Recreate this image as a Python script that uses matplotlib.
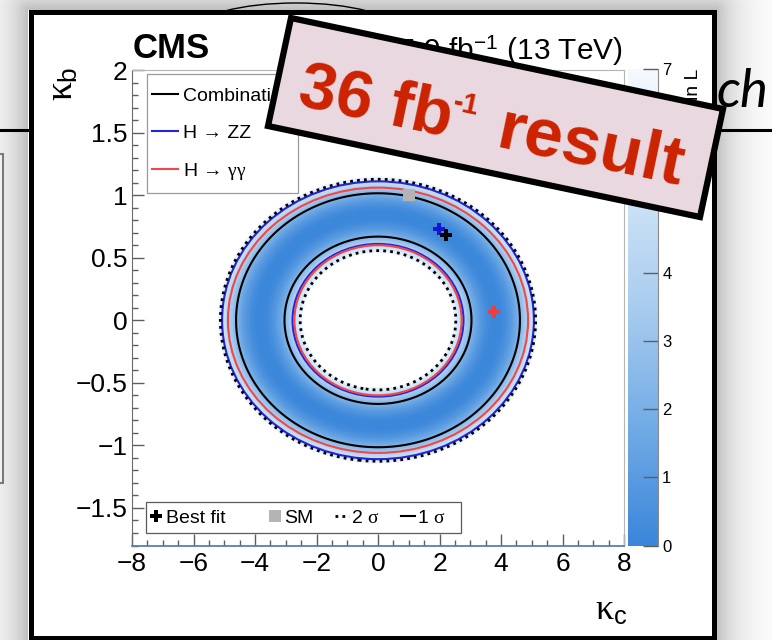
import numpy as np
import matplotlib
matplotlib.use('Agg')
import matplotlib.pyplot as plt
from matplotlib.colors import LinearSegmentedColormap
from matplotlib.patches import Ellipse, Rectangle, Polygon
from matplotlib.lines import Line2D
from matplotlib.ticker import MultipleLocator, FuncFormatter

plt.rcParams['font.family'] = ['Liberation Sans', 'DejaVu Sans']
plt.rcParams['mathtext.fontset'] = 'custom'
plt.rcParams['mathtext.rm'] = 'Liberation Sans'
plt.rcParams['mathtext.it'] = 'Liberation Serif'
plt.rcParams['mathtext.bf'] = 'Liberation Sans:bold'

# combined fit: -2 dlnL crossings along kappa_c = 0 (kb) and kappa_b = 0 (kc)
comb_q = [6.18, 2.30, 2.30, 6.18]
comb_kb = [0.56, 0.66, 1.005, 1.13]
comb_kc = [2.55, 2.96, 4.62, 5.15]

# 1 sigma contours of the single channels, semi-axes (inner, outer)
zz_kc = [2.78, 5.07]
zz_kb = [0.61, 1.11]
gg_kc = [2.72, 4.88]
gg_kb = [0.60, 1.06]

# best fit points and standard model
best_comb = [2.21, 0.68]
best_zz = [1.99, 0.73]
best_gg = [3.78, 0.07]
sm_point = [1.0, 1.0]

x_ticks = [-8, -6, -4, -2, 0, 2, 4, 6, 8]
y_ticks = [-1.5, -1, -0.5, 0, 0.5, 1, 1.5, 2]
z_ticks = [0, 1, 2, 3, 4, 5, 6, 7]

W, H = 772, 640
fig = plt.figure(figsize=(W / 100, H / 100), dpi=100)

# ---- slide background behind the plot window ----
bg = fig.add_axes([0, 0, 1, 1])
bg.set_axis_off()
yy, xx = np.mgrid[0:H, 0:W] + 0.5
dx = np.maximum(np.maximum(28 - xx, xx - 716), 0)
dy = np.maximum(np.maximum(10 - yy, yy - 640), 0)
d = np.hypot(dx, dy)
shadow = np.zeros((H, W, 4))
shadow[..., 3] = np.where(d > 0, 0.26 * np.exp(-d / 22.0), 0)
bg.imshow(shadow, extent=(0, W, H, 0), aspect='auto', zorder=1)
bg.add_patch(Ellipse((296, 30), 200, 54, fill=False, ec='k', lw=1.0, zorder=1.2))
bg.plot([0, W], [130, 130], color='k', lw=2.2, zorder=1.2)
bg.add_patch(Rectangle((-10, 154), 12.5, 329, fc='#f2f2f2', ec='#7a7a7a', lw=1.5, zorder=1.2))
bg.text(716, 107, 'ch', fontsize=38, family=['Lato', 'DejaVu Sans'], style='italic',
        color='k', ha='left', va='baseline', zorder=1.3)
bg.add_patch(Rectangle((30.5, 12), 683.5, 626, fc='white', ec='k', lw=3.6, zorder=2))
bg.text(133, 58, 'CMS', fontsize=25, fontweight='bold', ha='left', va='baseline', zorder=3)
bg.text(623, 60, '35.9 fb$^{\\mathrm{-1}}$ (13 TeV)', fontsize=21.5, ha='right',
        va='baseline', zorder=3)
bg.text(63, 67, r'$\kappa_{\mathrm{b}}$', fontsize=27, rotation=90, ha='center',
        va='top', zorder=3)
bg.text(627, 620, r'$\kappa_{\mathrm{c}}$', fontsize=26, ha='right', va='baseline', zorder=3)
bg.set_xlim(0, W)
bg.set_ylim(H, 0)

# ---- likelihood scan ----
ax_left, ax_top, ax_w, ax_h = 132, 70, 492, 475.5
ax = fig.add_axes([ax_left / W, 1 - (ax_top + ax_h) / H, ax_w / W, ax_h / H], zorder=1)


def frac(px, py):
    return (px - ax_left) / ax_w, (ax_top + ax_h - py) / ax_h


aspect = np.mean(np.array(comb_kc) / np.array(comb_kb))
u_best = np.hypot(best_comb[0] / aspect, best_comb[1])
u_pts = comb_kb[:2] + [u_best] + comb_kb[2:]
q_pts = comb_q[:2] + [0.0] + comb_q[2:]
coef = np.polyfit(u_pts, q_pts, 2)

kc = np.linspace(-8, 8, 801)
kb = np.linspace(-1.8, 2, 481)
KC, KB = np.meshgrid(kc, kb)
Q = np.clip(np.polyval(coef, np.hypot(KC / aspect, KB)), 0, None)

cmap = LinearSegmentedColormap.from_list(
    'nll', ['#3a86da', '#72abe5', '#a8ccef', '#d0e4f6', '#f4f9fe'])
cmap.set_over('white')
cmap.set_bad('white')
mesh = ax.pcolormesh(KC, KB, np.ma.masked_greater(Q, 7), cmap=cmap, vmin=0, vmax=7,
                     shading='auto')

for a, b in zip(zz_kc, zz_kb):
    ax.add_patch(Ellipse((0, 0), 2 * a, 2 * b, fill=False, ec='#2424dd', lw=1.5))
for a, b in zip(gg_kc, gg_kb):
    ax.add_patch(Ellipse((0, 0), 2 * a, 2 * b, fill=False, ec='#f04848', lw=1.5))
ax.contour(KC, KB, Q, levels=[comb_q[1]], colors='k', linewidths=1.5)
ax.contour(KC, KB, Q, levels=[comb_q[0]], colors='k', linewidths=2.0,
           linestyles=[(0, (1, 1.5))])

ax.plot(sm_point[0], sm_point[1], 's', color='#b4b4b4', ms=8, mew=0)
ax.plot(best_zz[0], best_zz[1], 'P', color='#1414d8', ms=9, mew=0)
ax.plot(best_comb[0], best_comb[1], 'P', color='k', ms=9, mew=0)
ax.plot(best_gg[0], best_gg[1], 'P', color='#f03c3c', ms=9, mew=0)

ax.set_xlim(-8, 8)
ax.set_ylim(-1.8, 2)
ax.set_xticks(x_ticks)
ax.set_yticks(y_ticks)
ax.xaxis.set_minor_locator(MultipleLocator(0.5))
ax.yaxis.set_minor_locator(MultipleLocator(0.1))
fmt = FuncFormatter(lambda v, p: f'{v:g}'.replace('-', '\u2212'))
ax.xaxis.set_major_formatter(fmt)
ax.yaxis.set_major_formatter(fmt)
ax.tick_params(which='both', direction='in', top=False, right=False,
               color='#5e5e5e', width=1.0, labelsize=19)
ax.tick_params(which='major', length=8.6)
ax.tick_params(which='minor', length=4.0)
ax.tick_params(axis='x', pad=4.7)
ax.tick_params(axis='y', pad=3)
ax.spines['left'].set_color('#6b6b6b')
ax.spines['bottom'].set_color('#5b80ad')
ax.spines['bottom'].set_linewidth(1.3)
for s in ('top', 'right'):
    ax.spines[s].set_color('#b5b5b5')
    ax.spines[s].set_linewidth(0.8)

# legend boxes
bx, by = frac(147, 193)
ax.add_patch(Rectangle((bx, by), 151 / ax_w, 119 / ax_h, transform=ax.transAxes,
                       fc='white', ec='#9a9a9a', lw=0.9, zorder=4))
bx, by = frac(146, 533)
ax.add_patch(Rectangle((bx, by), 315 / ax_w, 31 / ax_h, transform=ax.transAxes,
                       fc='white', ec='#5a5a5a', lw=0.9, zorder=4))

leg_style = dict(frameon=False, borderpad=0, borderaxespad=0, fontsize=14)

leg1 = ax.legend(
    handles=[Line2D([], [], color='k', lw=1.5),
             Line2D([], [], color='#2424dd', lw=1.5),
             Line2D([], [], color='#f04848', lw=1.5)],
    labels=['Combination', 'H \u2192 ZZ', 'H \u2192 $\\gamma\\gamma$'],
    loc='center left', bbox_to_anchor=frac(152, 134.5), handlelength=1.34,
    handletextpad=0.26, labelspacing=0.98, **leg_style)
ax.add_artist(leg1)

leg2 = ax.legend(
    handles=[Line2D([], [], marker='P', color='k', ls='none', ms=9, mew=0)],
    labels=['Best fit'], loc='center left', bbox_to_anchor=frac(149, 518),
    handlelength=0.75, handletextpad=0.1, **leg_style)
ax.add_artist(leg2)

leg3 = ax.legend(
    handles=[Line2D([], [], marker='s', color='#b4b4b4', ls='none', ms=8, mew=0),
             Line2D([], [], color='k', lw=2.0, ls=(0, (1, 1.5))),
             Line2D([], [], color='k', lw=1.5)],
    labels=['SM', '2 $\\sigma$', '1 $\\sigma$'], ncol=3,
    loc='center left', bbox_to_anchor=frac(268, 518), handlelength=0.75,
    handletextpad=0.1, columnspacing=1.08, **leg_style)
for lg in (leg1, leg2, leg3):
    lg.set_zorder(5)

# ---- colour scale ----
cax = fig.add_axes([627.5 / W, 1 - 545.5 / H, 30.5 / W, 476.5 / H], zorder=1)
cbar = fig.colorbar(mesh, cax=cax, ticks=z_ticks)
cbar.outline.set_visible(False)
cax.spines['right'].set_visible(True)
cax.spines['right'].set_color('#8a8a8a')
cax.tick_params(direction='in', length=10.5, width=1.0, color='#5e5e5e',
                labelsize=12, pad=3)
cbar.set_label('\u22122 \u0394 ln L', loc='top', fontsize=14, labelpad=10)

# ---- overlay tag ----
ov = fig.add_axes([0, 0, 1, 1], zorder=10)
ov.set_axis_off()
ov.patch.set_alpha(0)
ov.set_xlim(0, W)
ov.set_ylim(H, 0)
ov.add_patch(Polygon([(291, 18), (723, 109), (700, 217), (268, 126)], closed=True,
                     fc='#ead8e0', ec='k', lw=4.5, joinstyle='miter'))

renderer = fig.canvas.get_renderer()
tilt = 11.9
ct, st = np.cos(np.radians(tilt)), np.sin(np.radians(tilt))
tag = dict(fontweight='bold', color='#cc2200', rotation=-tilt, rotation_mode='anchor',
           ha='left', va='baseline')


def text_width(s, size):
    t = ov.text(0, 0, s, fontsize=size, fontweight='bold')
    w = t.get_window_extent(renderer).width
    t.remove()
    return w


x0, y0 = 296.0, 105.0
ov.text(x0, y0, '36 fb', fontsize=48, **tag)
s = text_width('36 fb', 48) - 2
rise = 27
ov.text(x0 + s * ct + rise * st, y0 + s * st - rise * ct, '-1', fontsize=21, **tag)
s += text_width('-1', 21) + 24
ov.text(x0 + s * ct, y0 + s * st, 'result', fontsize=50, **tag)

fig.savefig('out.png', dpi=100)
